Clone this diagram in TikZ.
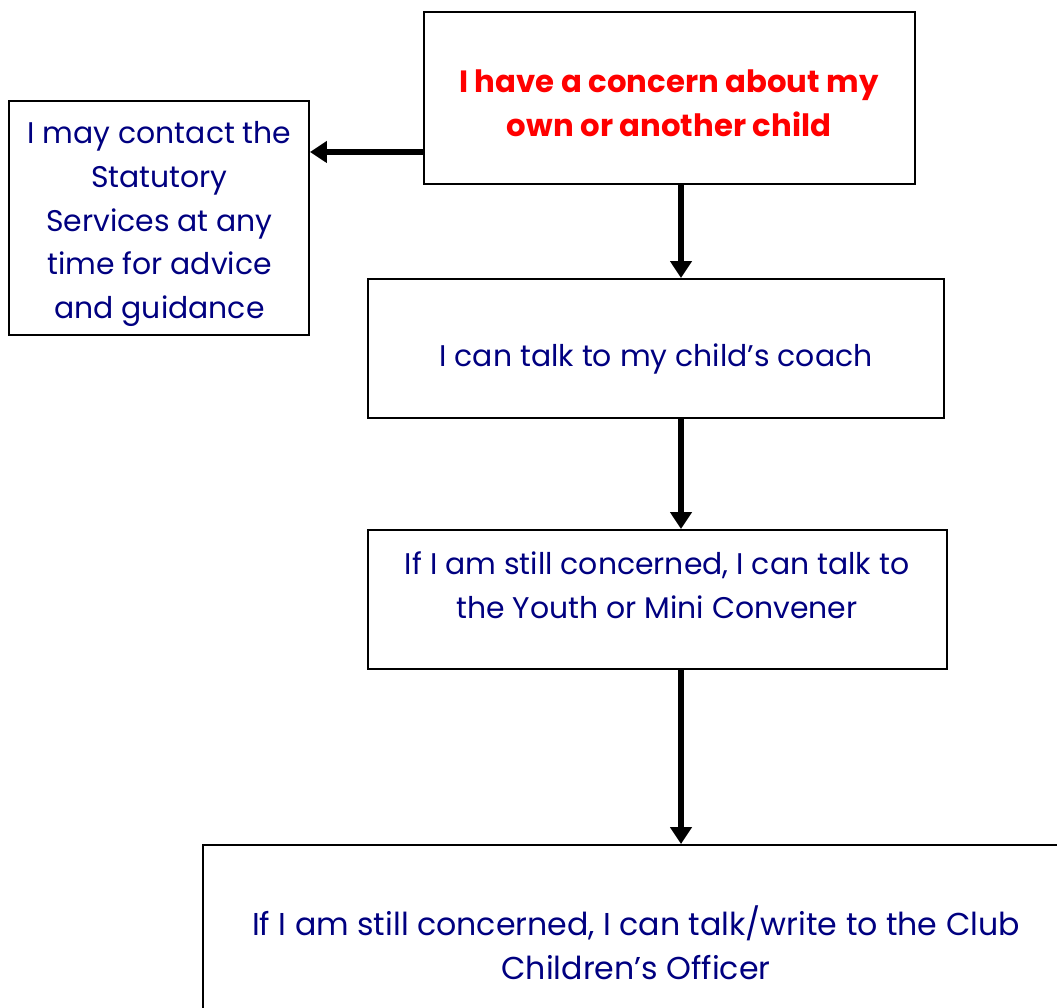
\documentclass[tikz,border=0pt]{standalone}
\usepackage{fontspec}
\setmainfont{Poppins}
\usetikzlibrary{positioning}
\usetikzlibrary{arrows.meta}
\definecolor{navytext}{HTML}{000080}
\tikzset{box/.style = {draw, line width = 1.1pt, rectangle, inner sep = 0}}
\tikzset{txt/.style = {align = center, inner sep = 0, text = navytext, font = \fontsize{17}{25}\selectfont}}
\tikzset{arr/.style = {line width = 3.2pt, -{Triangle[length = 0.34cm, width = 0.42cm]}}}

\begin{document}
\begin{tikzpicture}[x = 0.02cm, y = -0.02cm]
    \clip (0,0) rectangle (1057,1007);
    % boxes
    \node[box, minimum width = 9.82cm, minimum height = 3.44cm] (concern) at (669.5,98) {};
    \node[box, minimum width = 6cm, minimum height = 4.68cm] (statutory) at (159,218) {};
    \node[box, minimum width = 11.52cm, minimum height = 2.78cm] (coach) at (656,348.5) {};
    \node[box, minimum width = 11.58cm, minimum height = 2.78cm] (convener) at (657.5,599.5) {};
    \node[box, minimum width = 17.32cm, minimum height = 3.96cm] (officer) at (636,944) {};
    % texts
    \node[txt, text = red, font = \fontsize{17.5}{25}\selectfont\bfseries] (concerntext) at (669,103) {I have a concern about my\\own or another child};
    \node[txt] (statutorytext) at (159.5,224) {I may contact the\\Statutory\\Services at any\\time for advice\\and guidance};
    \node[txt] (coachtext) at (656,359) {I can talk to my child’s coach};
    \node[txt] (convenertext) at (657,585) {If I am still concerned, I can talk to\\the Youth or Mini Convener};
    \node[txt, font = \fontsize{18}{25}\selectfont] (officertext) at (636,943) {If I am still concerned, I can talk/write to the Club\\Children’s Officer};
    % arrows
    \coordinate (side) at ([yshift = -1.08cm]concern.west);
    \coordinate (spine) at ([xshift = 0.23cm]concern.south);
    \draw[arr] (side) -- (side -| statutory.east);
    \draw[arr] (spine) -- (spine |- coach.north);
    \draw[arr] (spine |- coach.south) -- (spine |- convener.north);
    \draw[arr] (spine |- convener.south) -- (spine |- officer.north);
\end{tikzpicture}
\end{document}
